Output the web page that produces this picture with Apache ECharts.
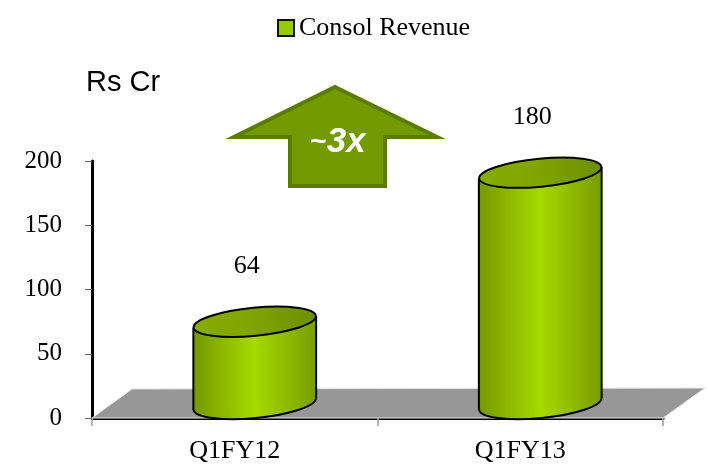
<!DOCTYPE html>
<html>
<head>
<meta charset="utf-8">
<script src="https://cdn.jsdelivr.net/npm/echarts@6/dist/echarts.min.js"></script>
<style>
  html, body { margin: 0; padding: 0; background: #fff; }
  #main { width: 707px; height: 465px; }
</style>
</head>
<body>
<div id="main"></div>
<script>
// chart data
var categories = ['Q1FY12', 'Q1FY13'];
var revenue = [64, 180];
var seriesName = 'Consol Revenue';
var yTicks = { min: 0, max: 200, interval: 50 };

var serif = "'Liberation Serif', 'DejaVu Serif', serif";
var sans = "'Liberation Sans', Arial, sans-serif";

// gray 3D floor under the cylinders
function renderFloor(params, api) {
	var cs = params.coordSys;
	var fl = cs.y + cs.height;
	return {
		type: 'polygon',
		shape: {
			points: [
				[cs.x, fl], [cs.x + 40, fl - 29],
				[cs.x + cs.width + 42, fl - 30], [cs.x + cs.width, fl]
			]
		},
		style: { fill: '#979797', stroke: '#e4e4e4', lineWidth: 1 }
	};
}

// cylinder for each value
function renderCylinder(params, api) {
	var cat = api.value(0), val = api.value(1);
	var top = api.coord([cat, val]);
	var base = api.coord([cat, 0]);
	var rx = api.size([1, 0])[0] * 0.43 / 2;
	var ry = 14;
	var cx = top[0] + 20;
	var topY = top[1] - 14;
	var botY = base[1] - 14;
	var ang = 0.095;
	var t = rx * Math.sin(ang);

	var bodyFill = new echarts.graphic.LinearGradient(0, 0, 1, 0, [
		{ offset: 0, color: '#769800' },
		{ offset: 0.5, color: '#a6da00' },
		{ offset: 1, color: '#789c00' }
	]);
	var topFill = new echarts.graphic.LinearGradient(0, 0, 1, 0, [
		{ offset: 0, color: '#86ad00' },
		{ offset: 0.5, color: '#7fa400' },
		{ offset: 1, color: '#6c8e00' }
	]);
	return {
		type: 'group',
		children: [{
			type: 'ellipse',
			shape: { cx: cx, cy: botY, rx: rx, ry: ry },
			rotation: ang, originX: cx, originY: botY,
			style: { fill: bodyFill, stroke: '#000', lineWidth: 2 }
		}, {
			type: 'polygon',
			shape: { points: [[cx - rx, topY + t], [cx + rx, topY - t], [cx + rx, botY - t], [cx - rx, botY + t]] },
			style: { fill: bodyFill }
		}, {
			type: 'line',
			shape: { x1: cx - rx, y1: topY + t, x2: cx - rx, y2: botY + t },
			style: { stroke: '#000', lineWidth: 2 }
		}, {
			type: 'line',
			shape: { x1: cx + rx, y1: topY - t, x2: cx + rx, y2: botY - t },
			style: { stroke: '#000', lineWidth: 2 }
		}, {
			type: 'ellipse',
			shape: { cx: cx, cy: topY, rx: rx, ry: ry },
			rotation: ang, originX: cx, originY: topY,
			style: { fill: topFill, stroke: '#000', lineWidth: 2 }
		}, {
			type: 'text',
			x: cx - 8, y: topY - 56,
			style: {
				text: String(val), fill: '#000', font: '26px ' + serif,
				align: 'center', verticalAlign: 'middle'
			}
		}]
	};
}

var option = {
	animation: false,
	legend: {
		data: [{ name: seriesName, itemStyle: { color: '#99cc00', borderColor: '#111', borderWidth: 2 } }],
		left: 272, top: 10,
		icon: 'rect', itemWidth: 16, itemHeight: 16,
		textStyle: { fontFamily: serif, fontSize: 26, color: '#000' }
	},
	grid: { left: 92, right: 44, top: 161, bottom: 47 },
	xAxis: {
		type: 'category',
		data: categories,
		axisLine: { lineStyle: { color: '#000', width: 3 } },
		axisTick: { show: true, length: 8, lineStyle: { color: '#999', width: 1.5 } },
		axisLabel: { margin: 20, color: '#000', fontFamily: serif, fontSize: 26 }
	},
	yAxis: {
		type: 'value',
		min: yTicks.min, max: yTicks.max, interval: yTicks.interval,
		name: 'Rs Cr',
		nameLocation: 'end',
		nameGap: 78,
		nameTextStyle: { fontFamily: sans, fontSize: 29, color: '#000', align: 'left', verticalAlign: 'middle', padding: [0, 0, 0, -6] },
		axisLine: { show: true, lineStyle: { color: '#000', width: 3 } },
		axisTick: { show: true, length: 7, lineStyle: { color: '#666', width: 1 } },
		axisLabel: { margin: 30, color: '#000', fontFamily: serif, fontSize: 25 },
		splitLine: { show: false }
	},
	graphic: [{
		type: 'polygon',
		shape: { points: [[335, 87], [437, 137], [385, 137], [385, 186], [290, 186], [290, 137], [234, 137]] },
		style: { fill: '#739a00', stroke: '#5a7c00', lineWidth: 4 }
	}, {
		type: 'text',
		x: 338, y: 142,
		style: {
			text: '{a|~}{b|3x}',
			align: 'center', verticalAlign: 'middle',
			rich: {
				a: { fill: '#fff', fontFamily: sans, fontWeight: 'bold', fontSize: 28 },
				b: { fill: '#fff', fontFamily: sans, fontWeight: 'bold', fontStyle: 'italic', fontSize: 35 }
			}
		}
	}],
	series: [{
		name: 'floor',
		type: 'custom',
		renderItem: renderFloor,
		data: [[0]],
		silent: true,
		z: 1
	}, {
		name: seriesName,
		type: 'custom',
		renderItem: renderCylinder,
		itemStyle: { color: '#99cc00' },
		data: revenue.map(function (v, i) { return [i, v]; }),
		z: 3
	}]
};

var myChart = echarts.init(document.getElementById('main'));
myChart.setOption(option);
</script>
</body>
</html>
